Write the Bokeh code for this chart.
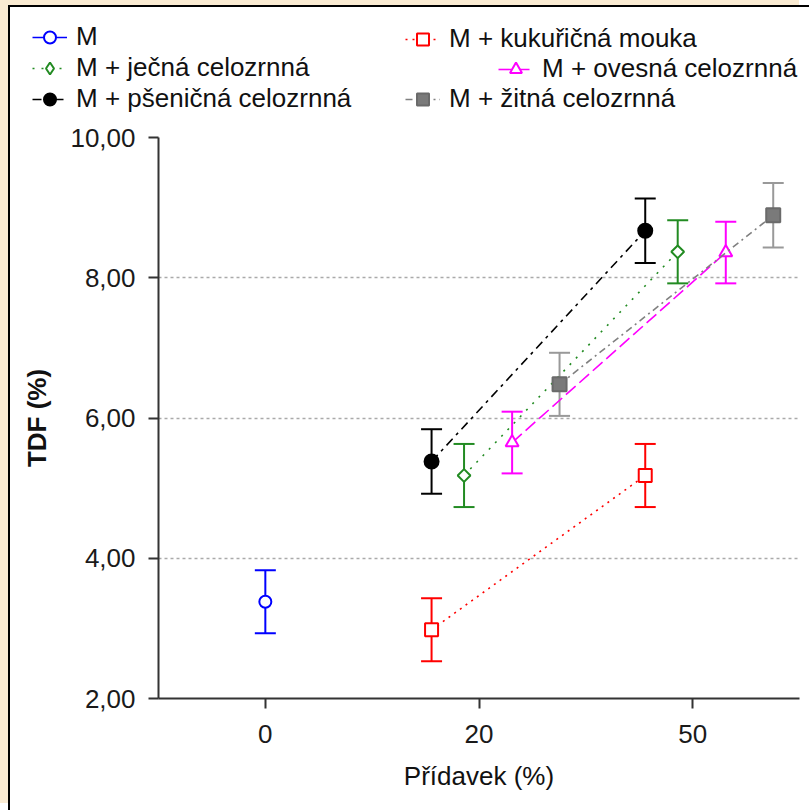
from bokeh.plotting import figure
from bokeh.layouts import column
from bokeh.models import (ColumnDataSource, Whisker, TeeHead, Legend, LegendItem,
                          FixedTicker, Range1d, FactorRange)
from bokeh.transform import dodge
from bokeh.embed import file_html
from bokeh.resources import INLINE

# ---- data ----
categories = ["0", "20", "50"]
y_ticks = [2, 4, 6, 8, 10]
y_tick_labels = ["2,00", "4,00", "6,00", "8,00", "10,00"]
grid_values = [4, 6, 8]

m_x = ["0"]
m_tdf = [3.38]
m_sd = [0.45]

kuk_x = ["20", "50"]
kuk_tdf = [2.98, 5.18]
kuk_sd = [0.45, 0.45]

jec_x = ["20", "50"]
jec_tdf = [5.18, 8.37]
jec_sd = [0.45, 0.45]

ove_x = ["20", "50"]
ove_tdf = [5.65, 8.36]
ove_sd = [0.44, 0.44]

pse_x = ["20", "50"]
pse_tdf = [5.38, 8.67]
pse_sd = [0.46, 0.46]

zit_x = ["20", "50"]
zit_tdf = [6.48, 8.89]
zit_sd = [0.45, 0.46]

series = [
    ("M", m_x, m_tdf, m_sd),
    ("M + kukuřičná mouka", kuk_x, kuk_tdf, kuk_sd),
    ("M + ječná celozrnná", jec_x, jec_tdf, jec_sd),
    ("M + ovesná celozrnná", ove_x, ove_tdf, ove_sd),
    ("M + pšeničná celozrnná", pse_x, pse_tdf, pse_sd),
    ("M + žitná celozrnná", zit_x, zit_tdf, zit_sd),
]

# ---- styles ----
styles = {
    "M": dict(off=0.0, color="#0000FF", bar="#0000FF", dash="solid", marker="circle",
              lmarker="circle", size=12, fill="white", angle=0.0, mline="#0000FF"),
    "M + kukuřičná mouka": dict(off=-0.222, color="#FF0000", bar="#FF0000", dash="2 5",
                                marker="square", lmarker="square", size=13, fill="white",
                                angle=0.0, mline="#FF0000"),
    "M + ječná celozrnná": dict(off=-0.07, color="#228B22", bar="#228B22", dash="2 7",
                                marker="square", lmarker="diamond", size=9, fill="white",
                                angle=0.785398, mline="#228B22"),
    "M + ovesná celozrnná": dict(off=0.155, color="#FF00FF", bar="#FF00FF", dash="13 5",
                                 marker="triangle", lmarker="triangle", size=13, fill="white",
                                 angle=0.0, mline="#FF00FF"),
    "M + pšeničná celozrnná": dict(off=-0.222, color="#000000", bar="#000000", dash="9 5 3 5",
                                   marker="circle", lmarker="circle", size=14, fill="#000000",
                                   angle=0.0, mline="#000000"),
    "M + žitná celozrnná": dict(off=0.377, color="#808080", bar="#999999", dash="7 4 2 4",
                                marker="square", lmarker="square", size=14, fill="#7a7a7a",
                                angle=0.0, mline="#6a6a6a"),
}

FONT = "Liberation Sans"
FS = "26px"

# ---- main plot ----
p = figure(width=799, height=688, output_backend="svg", toolbar_location=None,
           x_range=FactorRange(factors=categories), y_range=Range1d(2, 10),
           min_border_left=148, min_border_right=10, min_border_top=15, min_border_bottom=112)
p.frame_align = False
p.outline_line_color = None
p.background_fill_color = "white"
p.border_fill_color = "white"

for ax in (p.xaxis[0], p.yaxis[0]):
    ax.axis_line_color = "#333333"
    ax.axis_line_width = 2
    ax.major_tick_line_color = "#333333"
    ax.major_tick_line_width = 2
    ax.major_tick_in = 0
    ax.major_tick_out = 10
    ax.minor_tick_line_color = None
    ax.major_label_text_font = FONT
    ax.major_label_text_font_size = FS
    ax.major_label_text_color = "#1a1a1a"
    ax.axis_label_text_font = FONT
    ax.axis_label_text_font_size = FS
    ax.axis_label_text_color = "#111111"

p.yaxis[0].ticker = FixedTicker(ticks=y_ticks)
p.yaxis[0].major_label_overrides = dict(zip(y_ticks, y_tick_labels))
p.yaxis[0].major_label_standoff = 13
p.yaxis[0].axis_label = "TDF (%)"
p.yaxis[0].axis_label_text_font_style = "bold"
p.yaxis[0].axis_label_standoff = 15
p.xaxis[0].major_label_standoff = 16
p.xaxis[0].axis_label = "Přídavek (%)"
p.xaxis[0].axis_label_text_font_style = "normal"
p.xaxis[0].axis_label_standoff = 15

p.xgrid.grid_line_color = None
p.ygrid.ticker = FixedTicker(ticks=grid_values)
p.ygrid.grid_line_color = "#aaaaaa"
p.ygrid.grid_line_width = 1.5
p.ygrid.grid_line_dash = "3 3"

# ---- legend panel (same glyph styles, no visible data of its own) ----
lp = figure(width=799, height=115, output_backend="svg", toolbar_location=None,
            x_axis_type=None, y_axis_type=None, x_range=Range1d(0, 1), y_range=Range1d(0, 1),
            min_border_left=0, min_border_right=0, min_border_top=0, min_border_bottom=0)
lp.frame_align = False
lp.outline_line_color = None
lp.xgrid.visible = False
lp.ygrid.visible = False
lp.background_fill_color = "white"
lp.border_fill_color = "white"

nan = float("nan")
items = {}
for name, xs, ys, sds in series:
    st = styles[name]
    src = ColumnDataSource(dict(x=xs, y=ys,
                                upper=[a + b for a, b in zip(ys, sds)],
                                lower=[a - b for a, b in zip(ys, sds)]))
    xd = dodge("x", st["off"], range=p.x_range)
    w = Whisker(source=src, base=xd, upper="upper", lower="lower", dimension="height",
                line_color=st["bar"], line_width=2, level="underlay",
                upper_head=TeeHead(size=21, line_color=st["bar"], line_width=2),
                lower_head=TeeHead(size=21, line_color=st["bar"], line_width=2))
    p.add_layout(w)
    p.line(x=xd, y="y", source=src, line_color=st["color"], line_width=1.6,
           line_dash=st["dash"])
    p.scatter(x=xd, y="y", source=src, marker=st["marker"], size=st["size"],
              angle=st["angle"], fill_color=st["fill"], line_color=st["mline"],
              line_width=2)
    # legend icon renderers (a single NaN row: nothing drawn in the panel itself)
    esrc = ColumnDataSource(dict(x=[nan], y=[nan]))
    lr = lp.line(x="x", y="y", source=esrc, line_color=st["color"], line_width=1.6,
                 line_dash=st["dash"])
    sr = lp.scatter(x="x", y="y", source=esrc, marker=st["lmarker"], size=st["size"],
                    fill_color=st["fill"], line_color=st["mline"], line_width=2)
    items[name] = LegendItem(label=name, renderers=[lr, sr])


def make_legend(its, loc):
    lg = Legend(items=its, location=loc, orientation="vertical",
                label_text_font=FONT, label_text_font_size=FS, label_text_color="#111111",
                glyph_width=35, glyph_height=30, label_height=30, label_standoff=9,
                spacing=0, padding=0, margin=0, border_line_color=None,
                background_fill_alpha=0)
    lp.add_layout(lg, "center")


make_legend([items["M"], items["M + ječná celozrnná"], items["M + pšeničná celozrnná"]], (22, 8))
make_legend([items["M + kukuřičná mouka"]], (395, 68))
make_legend([items["M + ovesná celozrnná"]], (488, 38))
make_legend([items["M + žitná celozrnná"]], (395, 8))

layout = column(lp, p, spacing=0)
layout.styles = {"margin-left": "8px", "margin-top": "5px",
                 "border-left": "2px solid #000000", "border-top": "2px solid #000000",
                 "box-shadow": "-10px -7px 0px 0px #FAEBD2"}

open("out.html", "w").write(file_html(layout, INLINE))
